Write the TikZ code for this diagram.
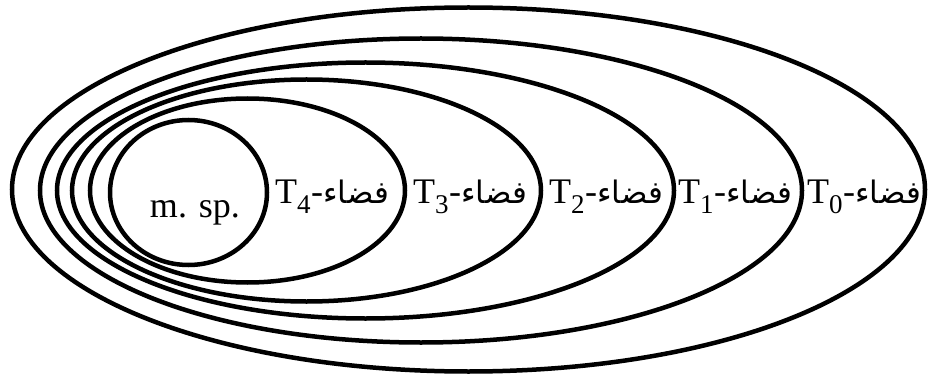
\documentclass[tikz,border=0pt]{standalone}
\usepackage{fontspec}
\setmainfont{Liberation Serif}
\newfontfamily\arabicfont[Script=Arabic]{DejaVu Sans}
\TeXXeTstate=1
\newcommand{\fadaa}{{\arabicfont\fontsize{31}{34}\selectfont\beginR فضاء\endR}}
\newcommand{\tsub}[1]{T\textsubscript{\fontsize{27}{27}\selectfont #1}-\fadaa}
\begin{document}
\begin{tikzpicture}[x=1pt,y=-1pt,
  ring/.style={line width=4.5pt},
  lab/.style={anchor=base, inner sep=0pt, font=\fontsize{36}{40}\selectfont}]
\useasboundingbox (0,0) rectangle (928,374);
\draw[ring] (468.5,189.5) ellipse [x radius=456.5, y radius=182];
\draw[ring] (421,190.5) ellipse [x radius=381, y radius=152];
\draw[ring] (365.5,190.5) ellipse [x radius=308.5, y radius=128];
\draw[ring] (306.5,190.5) ellipse [x radius=234.5, y radius=111];
\draw[ring] (247.5,190.5) ellipse [x radius=157.5, y radius=92];
\draw[ring] (188.5,192.5) ellipse [x radius=78.5, y radius=72.5];
\node[lab] (msp) at (195,217) {m. sp.};
\node[lab] (t4) at (332,204) {\tsub{4}};
\node[lab] (t3) at (470,204) {\tsub{3}};
\node[lab] (t2) at (606,204) {\tsub{2}};
\node[lab] (t1) at (735,204) {\tsub{1}};
\node[lab] (t0) at (864,204) {\tsub{0}};
\end{tikzpicture}
\end{document}
